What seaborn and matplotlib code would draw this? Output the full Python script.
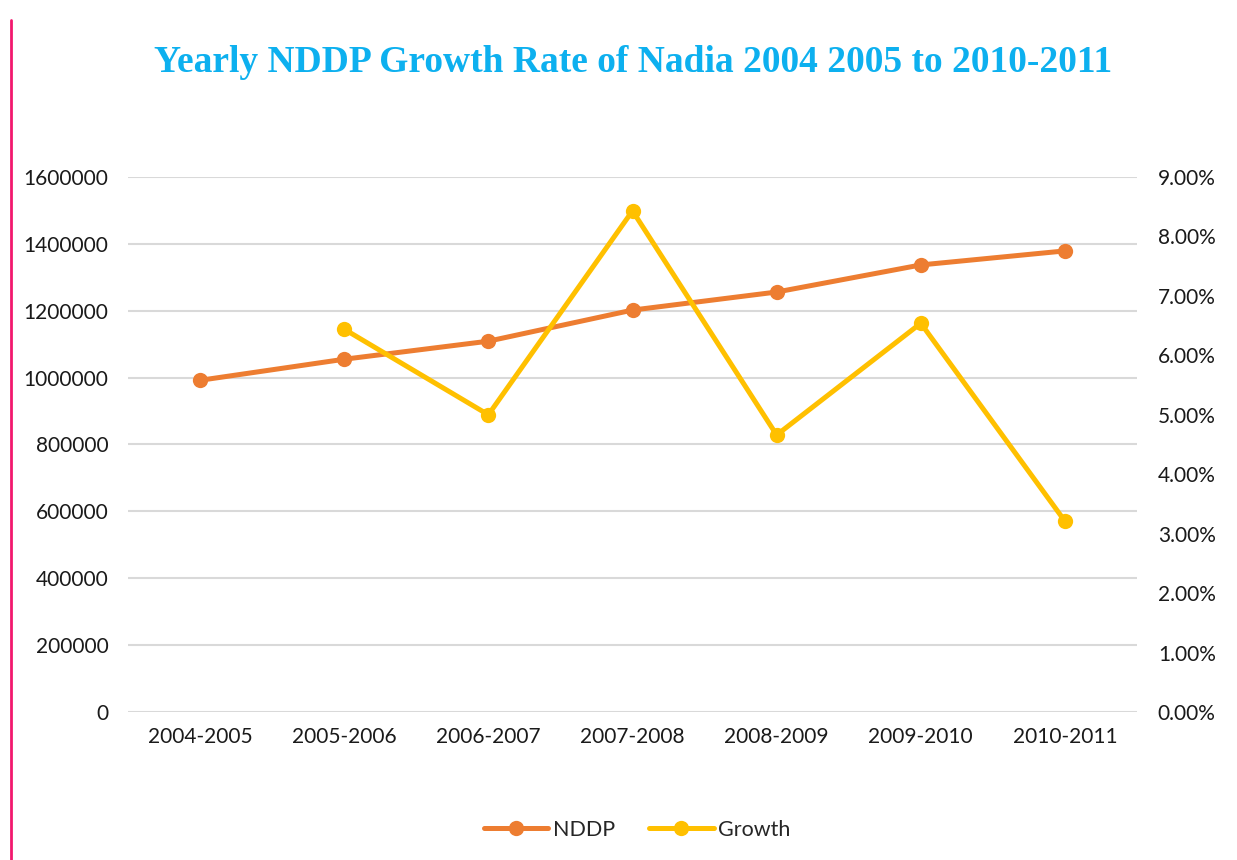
import matplotlib
matplotlib.use("Agg")
import matplotlib.pyplot as plt
from matplotlib.lines import Line2D
from matplotlib.ticker import PercentFormatter, MultipleLocator, FuncFormatter
import numpy as np
import pandas as pd
import seaborn as sns

years = ["2004-2005", "2005-2006", "2006-2007", "2007-2008",
         "2008-2009", "2009-2010", "2010-2011"]
nddp = [992000, 1055000, 1109000, 1202000, 1256000, 1337000, 1379000]
growth_pct = [np.nan, 6.44, 5.00, 8.43, 4.66, 6.54, 3.21]

title = "Yearly NDDP Growth Rate of Nadia 2004 2005 to 2010-2011"

sns.set_theme(style="white")
plt.rcParams["font.family"] = ["Lato", "DejaVu Sans"]

ORANGE = "#ED7D31"
YELLOW = "#FFC000"
GRID = "#D9D9D9"

df = pd.DataFrame({"year": years, "NDDP": nddp, "Growth": growth_pct})

fig = plt.figure(figsize=(12.37, 8.60), dpi=100)
ax = fig.add_axes([128 / 1237, 1 - 712 / 860, (1137 - 128) / 1237, (712 - 177) / 860])
ax2 = ax.twinx()

sns.lineplot(data=df, x="year", y="NDDP", ax=ax, color=ORANGE, marker="o",
             markersize=11, linewidth=3.6, markeredgewidth=0, label="NDDP",
             legend=False, sort=False)
g = df.dropna(subset=["Growth"])
sns.lineplot(data=g, x="year", y="Growth", ax=ax2, color=YELLOW, marker="o",
             markersize=11, linewidth=3.6, markeredgewidth=0, label="Growth",
             legend=False, sort=False)

ax.set_xlim(-0.5, len(years) - 0.5)
ax.set_ylim(0, 1600000)
ax.yaxis.set_major_locator(MultipleLocator(200000))
ax.yaxis.set_major_formatter(FuncFormatter(lambda v, p: f"{int(v)}"))
ax2.set_ylim(0, 9)
ax2.yaxis.set_major_locator(MultipleLocator(1))
ax2.yaxis.set_major_formatter(PercentFormatter(xmax=100, decimals=2))

ax.grid(axis="y", color=GRID, linewidth=1.5)
ax.set_axisbelow(True)
ax2.grid(False)
ax.set_xlabel("")
ax.set_ylabel("")
ax2.set_ylabel("")

for a in (ax, ax2):
    for s in a.spines.values():
        s.set_visible(False)
    a.tick_params(length=0, labelsize=15, colors="#1a1a1a")
ax.tick_params(axis="y", pad=14)
ax2.tick_params(axis="y", pad=15)
ax.tick_params(axis="x", pad=11)

# keep the lines above the grid on the left axis
ax2.set_zorder(ax.get_zorder() + 1)
ax2.patch.set_visible(False)

fig.text(633 / 1237, 1 - 63 / 860, title, ha="center", va="center",
         fontsize=27, fontweight="bold", color="#0DB0EF",
         family=["Liberation Serif", "DejaVu Serif"])

handles = [
    Line2D([], [], color=ORANGE, lw=3.6, marker="o", markersize=11, markeredgewidth=0),
    Line2D([], [], color=YELLOW, lw=3.6, marker="o", markersize=11, markeredgewidth=0),
]
fig.legend(handles, ["NDDP", "Growth"], loc="center", bbox_to_anchor=(637 / 1237, 1 - 830 / 860),
           ncol=2, frameon=False, fontsize=15.5, handlelength=3.0, handletextpad=0.2,
           columnspacing=1.6)

fig.add_artist(Line2D([11 / 1237, 11 / 1237], [0, 1 - 20 / 860], color="#F2186E", lw=2))

fig.savefig("out.png", dpi=100, facecolor="white")
